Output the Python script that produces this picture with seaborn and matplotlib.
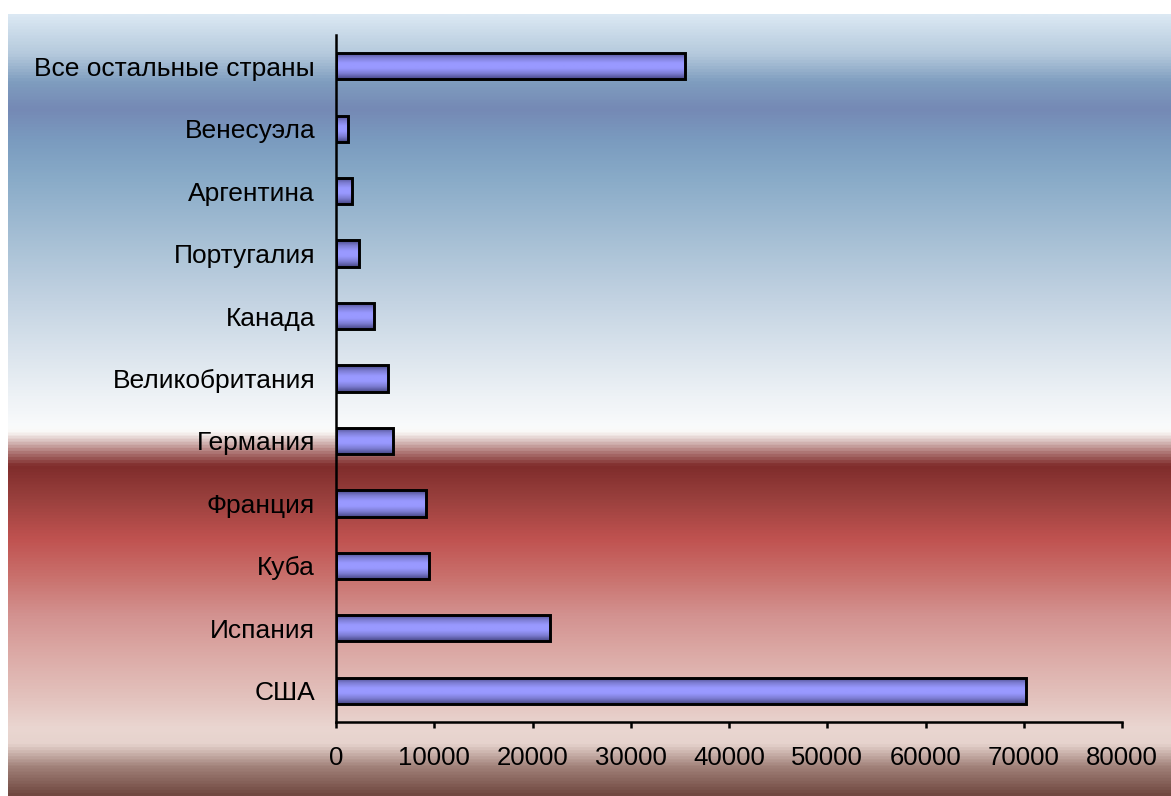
import numpy as np
import pandas as pd
import seaborn as sns
import matplotlib.pyplot as plt
from matplotlib.colors import LinearSegmentedColormap

sns.set_theme(style="white")
plt.rcParams['font.family'] = ['Liberation Sans', 'DejaVu Sans']

COUNTRIES = ["Все остальные страны", "Венесуэла", "Аргентина", "Португалия", "Канада",
             "Великобритания", "Германия", "Франция", "Куба", "Испания", "США"]
VALUES = [35500, 1200, 1600, 2300, 3900, 5300, 5850, 9200, 9500, 21800, 70200]
X_TICKS = [0, 10000, 20000, 30000, 40000, 50000, 60000, 70000, 80000]

W, H = 1171, 796
fig = plt.figure(figsize=(W / 100, H / 100), dpi=100, facecolor="white")

# background gradient (flag-like bands), from top to bottom
bg_stops = [
    (0.00, "#dbe8f3"), (0.05, "#b4c9dc"), (0.085, "#7f9dbf"), (0.12, "#7589b5"),
    (0.16, "#7a9bbf"), (0.21, "#89abc8"), (0.29, "#a7c0d5"), (0.365, "#c3d3e2"),
    (0.44, "#dde6ee"), (0.49, "#eef2f6"), (0.527, "#f9fbfc"), (0.535, "#faf8f6"),
    (0.56, "#b07a78"), (0.578, "#7f2c2b"), (0.62, "#99403d"), (0.672, "#c05250"),
    (0.72, "#c9706c"), (0.77, "#d39290"), (0.82, "#dcaaa6"), (0.875, "#e3c2bd"),
    (0.915, "#ead6d1"), (0.935, "#e6d3cd"), (0.965, "#a08078"), (1.00, "#704840"),
]
bg_cmap = LinearSegmentedColormap.from_list("bg", bg_stops)
bg_ax = fig.add_axes([8 / W, 0, 1 - 8 / W, (H - 14) / H], zorder=0)
bg_ax.imshow(np.linspace(0, 1, 512).reshape(-1, 1), aspect="auto", cmap=bg_cmap,
             extent=[0, 1, 1, 0])
bg_ax.set_axis_off()

ax = fig.add_axes([336 / W, 1 - 722 / H, (1122 - 336) / W, (722 - 35) / H], zorder=1)
ax.patch.set_alpha(0)

df = pd.DataFrame({"country": COUNTRIES, "value": VALUES})
sns.barplot(data=df, x="value", y="country", orient="h", ax=ax, width=0.42,
            color="#9999ff", edgecolor="black", linewidth=2.1)

# shaded fill inside each bar
bar_cmap = LinearSegmentedColormap.from_list(
    "bar", ["#474785", "#7c7cd2", "#9999ff", "#9999ff", "#7c7cd2", "#474785"])
grad = np.linspace(0, 1, 64).reshape(-1, 1)
for p in list(ax.patches):
    x0, y0 = p.get_x(), p.get_y()
    w, h = p.get_width(), p.get_height()
    im = ax.imshow(grad, aspect="auto", cmap=bar_cmap,
                   extent=[x0, x0 + w, y0 + h, y0], zorder=p.get_zorder() + 0.1)
    im.set_clip_path(p)
    p.set_facecolor("none")
    p.set_zorder(p.get_zorder() + 0.2)

ax.set_xlim(0, 80000)
ax.set_ylim(len(COUNTRIES) - 0.5, -0.5)
ax.set_xticks(X_TICKS)
ax.set_xticklabels([str(t) for t in X_TICKS])
ax.set_xlabel("")
ax.set_ylabel("")

for side in ["top", "right"]:
    ax.spines[side].set_visible(False)
for side in ["left", "bottom"]:
    ax.spines[side].set_color("black")
    ax.spines[side].set_linewidth(1.8)

ax.tick_params(axis="x", direction="out", length=4.5, width=1.8, color="black",
               labelsize=18.5, pad=13, bottom=True)
ax.tick_params(axis="y", length=0, labelsize=19, pad=15)
for lbl in ax.get_xticklabels() + ax.get_yticklabels():
    lbl.set_color("black")

fig.savefig("out.png", dpi=100, facecolor="white")
